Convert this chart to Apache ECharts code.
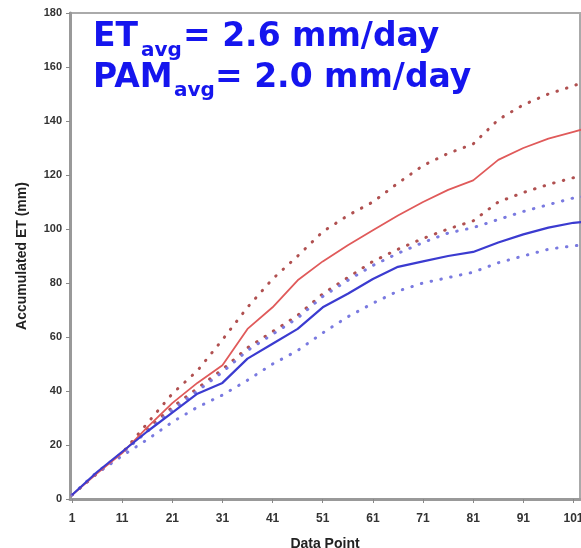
<!DOCTYPE html>
<html><head><meta charset="utf-8">
<script src="https://cdn.jsdelivr.net/npm/echarts@6/dist/echarts.min.js"></script>
<style>html,body{margin:0;padding:0;background:#fff;overflow:hidden}#c{width:581px;height:548px}</style>
</head><body><div id="c"></div>
<script>
const dataPoints = [1, 6, 11, 16, 21, 26, 31, 36, 41, 46, 51, 56, 61, 66, 71, 76, 81, 86, 91, 96, 101, 103];
const etMean   = [1.5, 9.5, 17, 26.5, 35.5, 43, 49.5, 63, 71, 81, 88, 94, 99.5, 105, 110, 114.5, 118, 125.6, 130, 133.5, 136, 137];
const etUpper  = [1.5, 9.5, 17, 28, 39, 47.5, 59, 71, 81.5, 90, 99, 105, 110, 117, 123.5, 128, 131.5, 140.5, 146, 150, 153, 154.5];
const etLower  = [1.5, 9.5, 17, 26, 34, 41, 48, 56, 62, 68, 76, 82, 88, 92.5, 96.5, 100, 103, 110, 113.5, 116.5, 119, 120];
const pamMean  = [1.5, 10, 17.5, 25, 32, 39, 43, 52, 57.5, 63, 71, 76, 81.5, 86, 88, 90, 91.5, 95, 98, 100.5, 102.3, 102.6];
const pamUpper = [1.5, 10, 17, 25, 33, 40, 47, 55, 61, 67, 75, 81, 86.5, 91, 95, 98.5, 100.5, 103.5, 106.5, 109, 111.5, 112];
const pamLower = [1.5, 9.5, 16, 22, 28.5, 34, 38.5, 44, 50, 55, 61.5, 67.5, 72.5, 77, 80, 82, 84, 87.5, 90, 92.5, 93.8, 94];
const xTickValues = [1, 11, 21, 31, 41, 51, 61, 71, 81, 91, 101];

const pair = (vals) => dataPoints.map((x, i) => [x, vals[i]]);
const chart = echarts.init(document.getElementById('c'), null, {renderer: 'canvas'});
const solid = (name, vals, color, w) => ({
  name, type: 'line', data: pair(vals), showSymbol: false, smooth: false,
  lineStyle: {color, width: w}, z: 3
});
const dotted = (name, vals, color) => ({
  name, type: 'line', data: pair(vals), showSymbol: false,
  lineStyle: {color, width: 3, type: [0.5, 9.5], cap: 'round'}, z: 2
});
const blue = '#1515ee';
const font = '"DejaVu Sans", Verdana, sans-serif';
const t = (x, y, text, size) => ({
  type: 'text', x, y, style: {text, fill: blue, font: 'bold ' + size + 'px ' + font, verticalAlign: 'top', align: 'left'}
});
const axisFont = '"Liberation Sans", Arial, sans-serif';
chart.setOption({
  animation: false,
  backgroundColor: '#fff',
  grid: {left: 70, right: 1, top: 13, bottom: 49, outerBoundsMode: 'none', containLabel: false,
         show: true, borderColor: '#aaa', borderWidth: 2},
  xAxis: {
    type: 'value', min: 0.6, max: 102.3,
    name: 'Data Point', nameLocation: 'middle', nameGap: 38,
    nameTextStyle: {fontFamily: axisFont, fontWeight: 'bold', fontSize: 14, color: '#222'},
    axisLine: {show: true, lineStyle: {color: '#999', width: 3}},
    axisTick: {show: true, length: 4, lineStyle: {color: '#888'}, customValues: xTickValues},
    axisLabel: {customValues: xTickValues, fontFamily: axisFont, fontWeight: 'bold', fontSize: 12, color: '#333', margin: 14},
    splitLine: {show: false}
  },
  yAxis: {
    type: 'value', min: 0, max: 180, interval: 20,
    name: 'Accumulated ET (mm)', nameLocation: 'middle', nameGap: 41,
    nameTextStyle: {fontFamily: axisFont, fontWeight: 'bold', fontSize: 14, color: '#222'},
    axisLine: {show: true, lineStyle: {color: '#999', width: 3}},
    axisTick: {show: true, length: 4, lineStyle: {color: '#888'}},
    axisLabel: {fontFamily: axisFont, fontWeight: 'bold', fontSize: 11, color: '#333', margin: 8},
    splitLine: {show: false}
  },
  series: [
    dotted('ET upper', etUpper, '#b05050'),
    dotted('ET lower', etLower, '#b05050'),
    dotted('PAM upper', pamUpper, '#7a7ae0'),
    dotted('PAM lower', pamLower, '#7a7ae0'),
    solid('ET', etMean, '#e05a5a', 1.8),
    solid('PAM', pamMean, '#3b3bd0', 2.2)
  ],
  graphic: [
    t(93, 21, 'ET', 33), t(141, 41, 'avg', 20), t(183, 21, '= 2.6 mm/day', 33),
    t(93, 62, 'PAM', 33), t(174, 81, 'avg', 20), t(215, 62, '= 2.0 mm/day', 33)
  ]
});
</script>
</body></html>
